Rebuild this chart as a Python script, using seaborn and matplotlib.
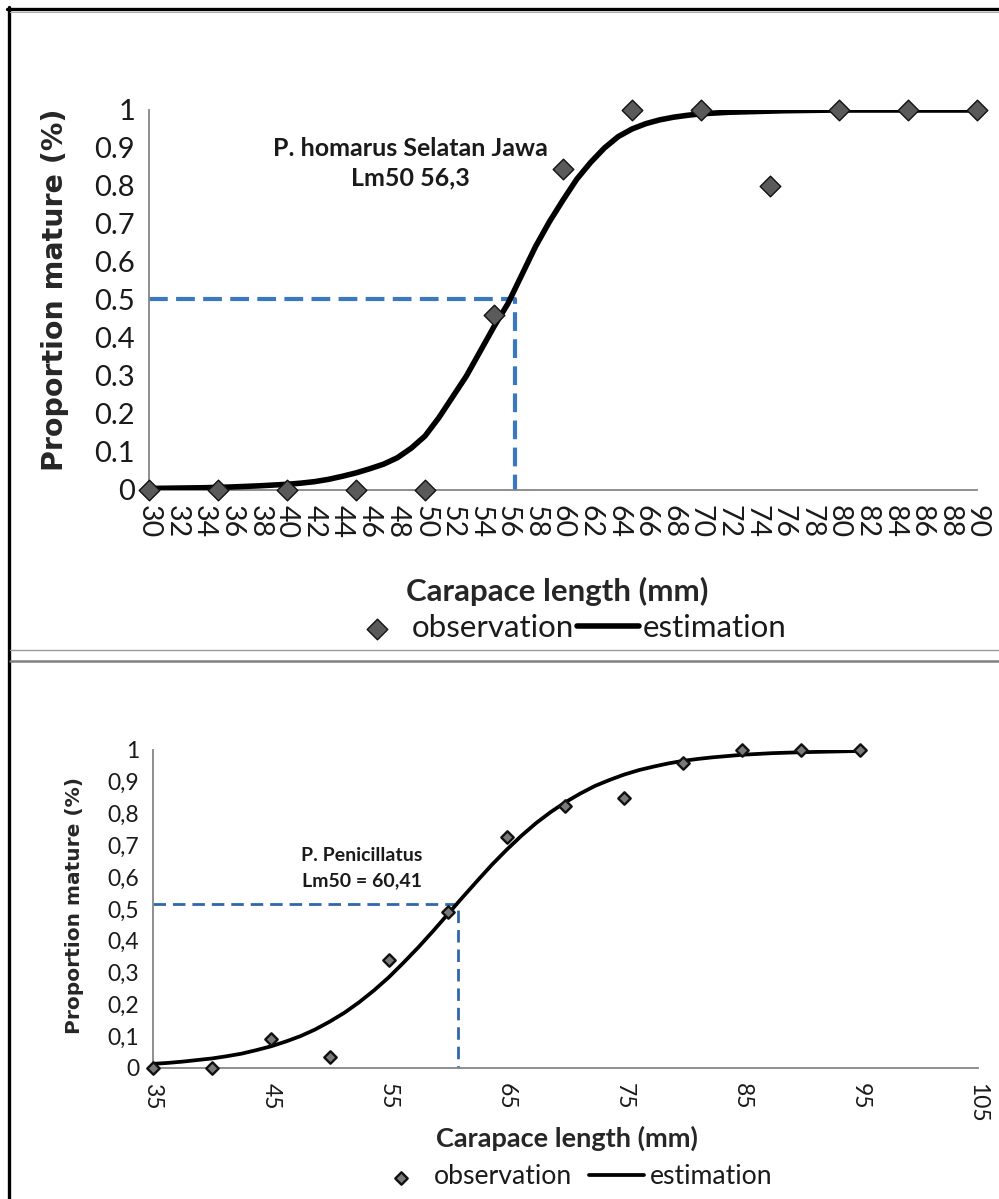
import matplotlib
matplotlib.use("Agg")
import matplotlib.pyplot as plt
from matplotlib.lines import Line2D
import seaborn as sns
import pandas as pd

# ---------------- data ----------------
top_obs_x = [30, 35, 40, 45, 50, 55, 60, 65, 70, 75, 80, 85, 90]
top_obs_y = [0, 0, 0, 0, 0, 0.46, 0.845, 1, 1, 0.80, 1, 1, 1]
top_est_x = [30, 32, 34, 36, 38, 40, 41, 42, 43, 44, 45, 46, 47, 48, 49, 50,
             51, 52, 53, 54, 55, 56, 57, 58, 59, 60, 61, 62, 63, 64, 65, 66,
             67, 68, 69, 70, 71, 72, 74, 76, 78, 80, 82, 84, 86, 88, 90]
top_est_y = [0.004, 0.005, 0.006, 0.008, 0.011, 0.015, 0.018, 0.022, 0.028,
             0.036, 0.045, 0.056, 0.068, 0.085, 0.11, 0.142, 0.19, 0.245,
             0.30, 0.365, 0.43, 0.49, 0.565, 0.64, 0.705, 0.763, 0.818, 0.862,
             0.90, 0.93, 0.95, 0.964, 0.974, 0.981, 0.986, 0.99, 0.992, 0.994,
             0.996, 0.998, 0.999, 1.0, 1.0, 1.0, 1.0, 1.0, 1.0]
top_lm50 = 56.5
top_p50 = 0.503
top_xticks = [30, 32, 34, 36, 38, 40, 42, 44, 46, 48, 50, 52, 54, 56, 58, 60,
              62, 64, 66, 68, 70, 72, 74, 76, 78, 80, 82, 84, 86, 88, 90]
top_yticks = [0, 0.1, 0.2, 0.3, 0.4, 0.5, 0.6, 0.7, 0.8, 0.9, 1]
top_yticklabels = ["0", "0.1", "0.2", "0.3", "0.4", "0.5", "0.6", "0.7", "0.8", "0.9", "1"]

bot_obs_x = [35, 40, 45, 50, 55, 60, 65, 70, 75, 80, 85, 90, 95]
bot_obs_y = [0, 0, 0.09, 0.035, 0.34, 0.49, 0.725, 0.825, 0.85, 0.96, 1, 1, 1]
bot_est_x = [35, 36.25, 37.5, 38.75, 40, 41.25, 42.5, 43.75, 45, 46.25, 47.5,
             48.75, 50, 51.25, 52.5, 53.75, 55, 56.25, 57.5, 58.75, 60, 61.25,
             62.5, 63.75, 65, 66.25, 67.5, 68.75, 70, 71.25, 72.5, 73.75, 75,
             76.25, 77.5, 78.75, 80, 81.25, 82.5, 83.75, 85, 87.5, 90, 92.5, 95]
bot_est_y = [0.013, 0.016, 0.020, 0.025, 0.030, 0.037, 0.045, 0.056, 0.068,
             0.083, 0.100, 0.121, 0.146, 0.174, 0.207, 0.244, 0.285, 0.331,
             0.379, 0.430, 0.483, 0.536, 0.588, 0.639, 0.686, 0.730, 0.770,
             0.805, 0.836, 0.863, 0.887, 0.906, 0.923, 0.937, 0.948, 0.958,
             0.966, 0.972, 0.977, 0.981, 0.985, 0.990, 0.993, 0.995, 0.997]
bot_lm50 = 60.9
bot_p50 = 0.515
bot_xticks = [35, 45, 55, 65, 75, 85, 95, 105]
bot_yticks = [0, 0.1, 0.2, 0.3, 0.4, 0.5, 0.6, 0.7, 0.8, 0.9, 1]
bot_yticklabels = ["0", "0,1", "0,2", "0,3", "0,4", "0,5", "0,6", "0,7", "0,8", "0,9", "1"]

top_df_obs = pd.DataFrame({"x": top_obs_x, "y": top_obs_y})
top_df_est = pd.DataFrame({"x": top_est_x, "y": top_est_y})
bot_df_obs = pd.DataFrame({"x": bot_obs_x, "y": bot_obs_y})
bot_df_est = pd.DataFrame({"x": bot_est_x, "y": bot_est_y})

# ---------------- style ----------------
sns.set_style("white")
plt.rcParams["font.family"] = ["Lato", "DejaVu Sans"]
AX_GRAY = "#868686"
TXT = "#1a1a1a"

fig = plt.figure(figsize=(9.99, 11.99), dpi=100)
W, H = 999.0, 1199.0


def axes_px(left, top, right, bottom):
    return fig.add_axes([left / W, 1 - bottom / H, (right - left) / W, (bottom - top) / H])


def style_axes(ax, tick_len):
    sns.despine(ax=ax)
    for s in ("left", "bottom"):
        ax.spines[s].set_color(AX_GRAY)
        ax.spines[s].set_linewidth(1.3)
    ax.tick_params(axis="both", which="both", direction="out", length=tick_len,
                   width=1.1, color=AX_GRAY, labelcolor=TXT)
    ax.grid(False)


# ================= TOP PANEL =================
ax1 = axes_px(149, 110, 977, 490)
sns.lineplot(data=top_df_est, x="x", y="y", ax=ax1, color="black", lw=4.0,
             label="estimation", zorder=3, solid_capstyle="round",
             solid_joinstyle="round")
sns.scatterplot(data=top_df_obs, x="x", y="y", ax=ax1, marker="D", s=110,
                color="#5a5a5a", edgecolor="#111111", linewidth=1.0,
                label="observation", zorder=4, clip_on=False)
ax1.plot([top_est_x[0], top_lm50, top_lm50], [top_p50, top_p50, 0],
         color="#3a78c0", lw=3.0, ls=(0, (4.5, 2)), zorder=2)
ax1.set_xlim(30, 90)
ax1.set_ylim(0, 1)
ax1.set_xticks(top_xticks)
ax1.set_xticklabels([str(v) for v in top_xticks], rotation=270, fontsize=20.5)
ax1.set_yticks(top_yticks)
ax1.set_yticklabels(top_yticklabels, fontsize=21)
style_axes(ax1, 7)
ax1.tick_params(axis="x", pad=4)
ax1.tick_params(axis="y", pad=3)
ax1.set_xlabel("Carapace length (mm)", fontsize=22.5, fontweight="bold", va="center")
ax1.xaxis.set_label_coords((557 - 149) / 828, (490 - 591) / 380)
ax1.set_ylabel("Proportion mature (%)", fontsize=20.5, fontweight="bold",
               family=["DejaVu Sans"], va="center")
ax1.yaxis.set_label_coords((55 - 149) / 828, (490 - 290) / 380)
ax1.text((410 - 149) / 828, (490 - 163) / 380, "P. homarus Selatan Jawa\nLm50 56,3",
         transform=ax1.transAxes, ha="center", va="center", fontsize=18,
         fontweight="bold", linespacing=1.35, color=TXT)
h, l = ax1.get_legend_handles_labels()
order = [l.index("observation"), l.index("estimation")]
ax1.legend([h[i] for i in order], [l[i] for i in order], loc="center",
           bbox_to_anchor=(566 / W, 1 - 628 / H), bbox_transform=fig.transFigure,
           ncol=2, frameon=False, fontsize=22.5, handlelength=2.0, handletextpad=0.1,
           columnspacing=0.1, borderpad=0.0, labelcolor=TXT)

# ================= BOTTOM PANEL =================
ax2 = axes_px(153, 750, 978, 1068)
sns.lineplot(data=bot_df_est, x="x", y="y", ax=ax2, color="black", lw=2.7,
             label="estimation", zorder=3, solid_capstyle="round",
             solid_joinstyle="round")
sns.scatterplot(data=bot_df_obs, x="x", y="y", ax=ax2, marker="D", s=40,
                color="#7a7a7a", edgecolor="#111111", linewidth=1.7,
                label="observation", zorder=4, clip_on=False)
ax2.plot([bot_est_x[0], bot_lm50, bot_lm50], [bot_p50, bot_p50, 0],
         color="#2f67ad", lw=2.0, ls=(0, (4.5, 2.5)), zorder=2)
ax2.set_xlim(35, 105)
ax2.set_ylim(0, 1)
ax2.set_xticks(bot_xticks)
ax2.set_xticklabels([str(v) for v in bot_xticks], rotation=270, fontsize=16.5)
ax2.set_yticks(bot_yticks)
ax2.set_yticklabels(bot_yticklabels, fontsize=16.5)
style_axes(ax2, 6)
ax2.tick_params(axis="x", pad=5)
ax2.tick_params(axis="y", pad=4)
ax2.set_xlabel("Carapace length (mm)", fontsize=19.5, fontweight="bold", va="center")
ax2.xaxis.set_label_coords((567 - 153) / 825, (1068 - 1138) / 318)
ax2.set_ylabel("Proportion mature (%)", fontsize=14.5, fontweight="bold",
               family=["DejaVu Sans"], va="center")
ax2.yaxis.set_label_coords((75 - 153) / 825, (1068 - 905) / 318)
ax2.text((362 - 153) / 825, (1068 - 868) / 318, "P. Penicillatus\nLm50 = 60,41",
         transform=ax2.transAxes, ha="center", va="center", fontsize=14,
         fontweight="bold", linespacing=1.6, color=TXT)
h, l = ax2.get_legend_handles_labels()
order = [l.index("observation"), l.index("estimation")]
ax2.legend([h[i] for i in order], [l[i] for i in order], loc="center",
           bbox_to_anchor=(573 / W, 1 - 1177 / H), bbox_transform=fig.transFigure,
           ncol=2, frameon=False, fontsize=19.2, handlelength=2.06, handletextpad=0.2,
           columnspacing=0.65, borderpad=0.1, labelcolor=TXT)

# ================= frame / separators =================
fig.add_artist(Line2D([8.5 / W, 8.5 / W], [0, 1 - 7 / H], color="black", lw=2.4,
                      transform=fig.transFigure))
fig.add_artist(Line2D([7 / W, 1], [1 - 8.5 / H, 1 - 8.5 / H], color="black", lw=2.4,
                      transform=fig.transFigure))
fig.add_artist(Line2D([10 / W, 1], [1 - 11.5 / H, 1 - 11.5 / H], color="#b0b0b0", lw=0.8,
                      transform=fig.transFigure))
fig.add_artist(Line2D([10 / W, 1], [1 - 650 / H, 1 - 650 / H], color="#9a9a9a", lw=1.0,
                      transform=fig.transFigure))
fig.add_artist(Line2D([10 / W, 1], [1 - 661 / H, 1 - 661 / H], color="#808080", lw=1.8,
                      transform=fig.transFigure))

fig.savefig("out.png", dpi=100, facecolor="white")
